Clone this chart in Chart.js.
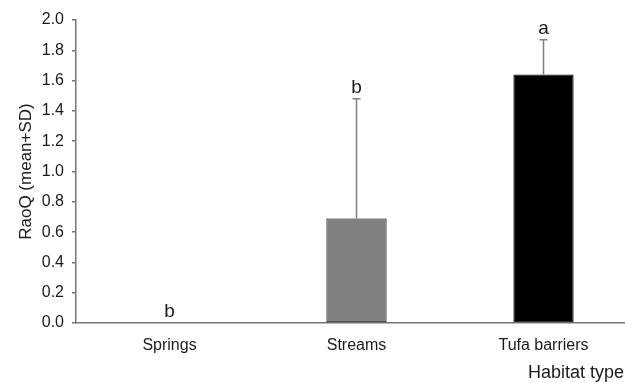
<!DOCTYPE html>
<html>
<head>
<meta charset="utf-8">
<script src="https://cdn.jsdelivr.net/npm/chart.js@4/dist/chart.umd.min.js"></script>
<style>
  html, body { margin: 0; padding: 0; background: #fff; overflow: hidden; }
  #wrap { width: 640px; height: 383px; }
</style>
</head>
<body>
<div id="wrap"><canvas id="c" width="640" height="383"></canvas></div>
<script>
// Functional diversity (Rao's Q) per habitat type
const habitats = ['Springs', 'Streams', 'Tufa barriers'];
const raoMean = [0, 0.69, 1.64];
const raoSD = [0, 0.79, 0.23];
const groupLetters = ['b', 'b', 'a'];
const barColors = ['#808080', '#808080', '#000000'];
const yMin = 0, yMax = 2.0, yStep = 0.2;

const FONT = "'Liberation Sans', Arial, Helvetica, sans-serif";
const TEXT = '#1a1a1a';
const AXIS = '#767676';

// mean + SD whiskers and significance letters above each bar
const errorBars = {
  id: 'errorBars',
  afterDatasetsDraw(chart) {
    const { ctx, scales: { y } } = chart;
    const meta = chart.getDatasetMeta(0);
    ctx.save();
    meta.data.forEach((bar, i) => {
      const x = bar.x;
      const yBase = y.getPixelForValue(raoMean[i]);
      const yTop = y.getPixelForValue(raoMean[i] + raoSD[i]);
      if (raoSD[i] > 0) {
        ctx.strokeStyle = '#808080';
        ctx.lineWidth = 1.5;
        ctx.beginPath();
        ctx.moveTo(x, yBase);
        ctx.lineTo(x, yTop);
        ctx.moveTo(x - 4, yTop);
        ctx.lineTo(x + 4, yTop);
        ctx.stroke();
      }
      ctx.fillStyle = TEXT;
      ctx.font = '19px ' + FONT;
      ctx.textAlign = 'center';
      ctx.textBaseline = 'alphabetic';
      ctx.fillText(groupLetters[i], x, yTop - 6);
    });
    ctx.restore();
  }
};

// x-axis title sits at the lower right corner
const xTitle = {
  id: 'xTitle',
  afterDraw(chart) {
    const { ctx } = chart;
    ctx.save();
    ctx.fillStyle = TEXT;
    ctx.font = '18px ' + FONT;
    ctx.textAlign = 'right';
    ctx.textBaseline = 'alphabetic';
    ctx.fillText('Habitat type', 624, 378);
    ctx.restore();
  }
};

new Chart(document.getElementById('c'), {
  type: 'bar',
  data: {
    labels: habitats,
    datasets: [{
      data: raoMean,
      backgroundColor: barColors,
      borderColor: '#000000',
      borderWidth: raoMean.map(v => (v > 0 ? 1 : 0)),
      borderSkipped: false,
      categoryPercentage: 1.0,
      barPercentage: 0.322
    }]
  },
  options: {
    responsive: false,
    animation: false,
    layout: { padding: { top: 20, right: 3, left: 0, bottom: 0 } },
    plugins: { legend: { display: false }, tooltip: { enabled: false } },
    scales: {
      x: {
        grid: { display: false },
        border: { display: true, color: AXIS, width: 1.5 },
        ticks: { font: { size: 16, family: FONT }, color: TEXT, padding: 5, maxRotation: 0 },
        afterFit(s) { s.height = 60; }
      },
      y: {
        min: yMin,
        max: yMax,
        ticks: {
          stepSize: yStep,
          callback: v => Number(v).toFixed(1),
          font: { size: 16, family: FONT },
          color: TEXT,
          padding: 8
        },
        grid: { drawOnChartArea: false, drawTicks: true, tickLength: 4, color: AXIS, lineWidth: 1.5 },
        border: { display: true, color: AXIS, width: 1.5 },
        title: {
          display: true,
          text: 'RaoQ (mean+SD)',
          font: { size: 17, family: FONT },
          color: TEXT,
          padding: { top: 16, bottom: 0 }
        },
        afterFit(s) { s.width = 76; }
      }
    }
  },
  plugins: [errorBars, xTitle]
});
</script>
</body>
</html>
